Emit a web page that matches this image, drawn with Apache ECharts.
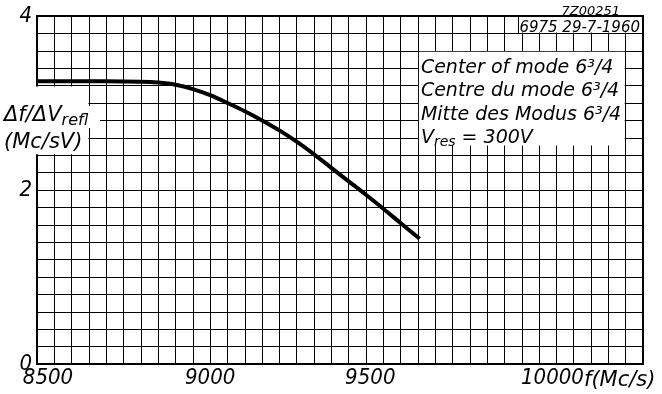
<!DOCTYPE html>
<html>
<head>
<meta charset="utf-8">
<script src="https://cdn.jsdelivr.net/npm/echarts@6/dist/echarts.min.js"></script>
<style>
  html, body { margin: 0; padding: 0; background: #fff; }
  #chart { width: 662px; height: 394px; }
</style>
</head>
<body>
<div id="chart"></div>
<script>
// curve: f (Mc/s) vs df/dV_refl (Mc/sV)
const freq = [8500, 8700, 8800, 8850, 8900, 8950, 9000, 9050, 9100, 9150, 9200, 9250, 9300, 9350, 9400, 9450, 9500, 9550, 9605];
const ratio = [3.25, 3.25, 3.245, 3.235, 3.21, 3.16, 3.09, 3.00, 2.905, 2.80, 2.685, 2.555, 2.41, 2.255, 2.10, 1.945, 1.785, 1.62, 1.44];
const xTickLabels = [8500, 9000, 9500, 10000];
const yTickLabels = [0, 2, 4];
const notes = ['Center of mode 6³/4', 'Centre du mode 6³/4', 'Mitte des Modus 6³/4'];

const tickFont = '"DejaVu Sans Condensed", "DejaVu Sans", sans-serif';
const textFont = '"DejaVu Sans", sans-serif';

const chart = echarts.init(document.getElementById('chart'));

// small nudges so the tick labels sit where the drawing has them
const xShift = { 8500: [0, 0, 0, 22], 9000: [0, 0, 0, 0], 9500: [0, 26, 0, 0], 10000: [0, 8, 0, 0] };
const xRich = {};
xTickLabels.forEach(v => {
  xRich['t' + v] = { fontFamily: tickFont, fontStyle: 'italic', fontSize: 22, color: '#000', padding: xShift[v] };
});

const option = {
  animation: false,
  grid: { left: 37, right: 19, top: 16, bottom: 30, show: true, borderColor: '#000', borderWidth: 2 },
  xAxis: {
    type: 'value', min: 8500, max: 10250, interval: 50,
    axisLine: { lineStyle: { color: '#000', width: 2 } },
    axisTick: { show: false },
    splitLine: { lineStyle: { color: '#000', width: 1 } },
    axisLabel: {
      margin: 3,
      formatter: v => xTickLabels.includes(v) ? '{t' + v + '|' + v + '}' : '',
      rich: xRich
    }
  },
  yAxis: {
    type: 'value', min: 0, max: 4, interval: 0.2,
    axisLine: { lineStyle: { color: '#000', width: 2 } },
    axisTick: { show: false },
    splitLine: { lineStyle: { color: '#000', width: 1 } },
    axisLabel: {
      margin: 5, color: '#000', fontFamily: tickFont, fontStyle: 'italic', fontSize: 22,
      formatter: v => {
        const r = Math.round(v);
        return Math.abs(v - r) < 1e-6 && yTickLabels.includes(r) ? String(r) : '';
      }
    }
  },
  series: [{
    type: 'line',
    data: freq.map((f, i) => [f, ratio[i]]),
    smooth: 0.35,
    symbol: 'none',
    lineStyle: { color: '#000', width: 4 },
    z: 5
  }]
};
chart.setOption(option);

// boxes that blank out the grid, placed on grid lines
const p = (x, y) => chart.convertToPixel({ gridIndex: 0 }, [x, y]);
const noteTL = p(9600, 3.6), noteBR = p(10200, 2.5);
const labTL = p(8500, 3.2), labBR = p(8650, 2.4);
const dateBR = p(10250, 3.8);

const white = (x, y, w, h) => ({ type: 'rect', z: 10, shape: { x, y, width: w, height: h }, style: { fill: '#fff' } });
const txt = (x, y, text, size, extra) => ({
  type: 'text', z: 11, x, y,
  style: Object.assign({ text, fill: '#000', font: 'italic ' + size + 'px ' + textFont, verticalAlign: 'middle' }, extra || {})
});

const graphic = [
  // y axis name
  white(0, labTL[1] + 1, labBR[0] - 0.5, labBR[1] - labTL[1] - 2),
  white(labBR[0] - 1, 106, 12, 22),
  txt(4, 116, '{n|Δf/ΔV}{s|refl}', 21, {
    rich: {
      n: { font: 'italic 21px ' + textFont, fill: '#000' },
      s: { font: 'italic 16px ' + textFont, fill: '#000', padding: [9, 0, 0, 0] }
    }
  }),
  txt(4, 143, '(Mc/sV)', 21),
  // notes box
  white(noteTL[0] + 1, noteTL[1] + 1, noteBR[0] - noteTL[0] - 2, noteBR[1] - noteTL[1] - 2),
  // drawing number box
  white(519, 17, dateBR[0] - 520, dateBR[1] - 18),
  { type: 'line', z: 11, shape: { x1: 518.5, y1: 16, x2: 518.5, y2: dateBR[1] }, style: { stroke: '#000', lineWidth: 1 } },
  txt(640, 28, '6975 29-7-1960', 15, { align: 'right' }),
  txt(620, 12, '7Z00251', 13, { align: 'right' }),
  // x axis name
  txt(584, 381, 'f(Mc/s)', 21)
];
notes.forEach((s, i) => graphic.push(txt(noteTL[0] + 3, 68 + i * 23.5, s, 19)));
graphic.push(txt(noteTL[0] + 3, 138, '{n|V}{s|res}{n| = 300V}', 19, {
  rich: {
    n: { font: 'italic 19px ' + textFont, fill: '#000' },
    s: { font: 'italic 14px ' + textFont, fill: '#000', padding: [8, 0, 0, 0] }
  }
}));

chart.setOption({ graphic });
</script>
</body>
</html>
